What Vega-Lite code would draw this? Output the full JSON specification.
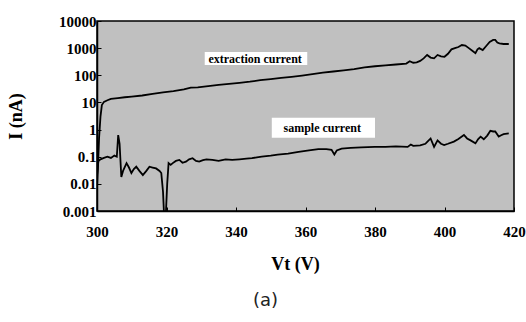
{
  "$schema": "https://vega.github.io/schema/vega-lite/v6.json",
  "autosize": "none",
  "width": 417,
  "height": 190,
  "padding": {"left": 97, "top": 21, "right": 12, "bottom": 111},
  "background": "white",
  "config": {
    "view": {"stroke": "black", "strokeWidth": 1.5, "fill": "#c0c0c0"},
    "axis": {"grid": false, "domainColor": "black", "tickColor": "black", "labelColor": "black", "titleColor": "black", "labelFont": "Liberation Serif", "titleFont": "Liberation Serif", "labelFontWeight": "bold", "titleFontWeight": "bold"}
  },
  "title": {"text": "(a)", "orient": "bottom", "anchor": "middle", "font": "DejaVu Sans", "fontSize": 18, "fontWeight": "normal", "color": "#222", "dx": -40, "offset": 19},
  "datasets": {
    "lines": [
      {"series": "extraction", "v": 300.0, "i": 0.008},
      {"series": "extraction", "v": 300.3, "i": 0.05},
      {"series": "extraction", "v": 300.6, "i": 0.5},
      {"series": "extraction", "v": 301.0, "i": 3},
      {"series": "extraction", "v": 301.4, "i": 8},
      {"series": "extraction", "v": 302.0, "i": 10.5},
      {"series": "extraction", "v": 303, "i": 12},
      {"series": "extraction", "v": 304, "i": 13.5},
      {"series": "extraction", "v": 306, "i": 14.5},
      {"series": "extraction", "v": 308, "i": 15.5},
      {"series": "extraction", "v": 310, "i": 16.5},
      {"series": "extraction", "v": 313, "i": 18},
      {"series": "extraction", "v": 316, "i": 20.5},
      {"series": "extraction", "v": 319, "i": 23.5},
      {"series": "extraction", "v": 322, "i": 26},
      {"series": "extraction", "v": 325, "i": 30},
      {"series": "extraction", "v": 327, "i": 35},
      {"series": "extraction", "v": 329, "i": 36},
      {"series": "extraction", "v": 332, "i": 40},
      {"series": "extraction", "v": 335, "i": 44},
      {"series": "extraction", "v": 338, "i": 48},
      {"series": "extraction", "v": 341, "i": 53},
      {"series": "extraction", "v": 344, "i": 58},
      {"series": "extraction", "v": 347, "i": 66},
      {"series": "extraction", "v": 350, "i": 72},
      {"series": "extraction", "v": 353, "i": 80},
      {"series": "extraction", "v": 356, "i": 88},
      {"series": "extraction", "v": 359, "i": 98},
      {"series": "extraction", "v": 362, "i": 110},
      {"series": "extraction", "v": 365, "i": 125},
      {"series": "extraction", "v": 368, "i": 138},
      {"series": "extraction", "v": 371, "i": 152},
      {"series": "extraction", "v": 374, "i": 170},
      {"series": "extraction", "v": 377, "i": 195},
      {"series": "extraction", "v": 380, "i": 215},
      {"series": "extraction", "v": 383, "i": 230},
      {"series": "extraction", "v": 386, "i": 250},
      {"series": "extraction", "v": 389, "i": 270},
      {"series": "extraction", "v": 390, "i": 330},
      {"series": "extraction", "v": 391, "i": 290},
      {"series": "extraction", "v": 392, "i": 300},
      {"series": "extraction", "v": 393, "i": 340},
      {"series": "extraction", "v": 394, "i": 420},
      {"series": "extraction", "v": 395, "i": 560},
      {"series": "extraction", "v": 396, "i": 450},
      {"series": "extraction", "v": 397, "i": 420},
      {"series": "extraction", "v": 398, "i": 560},
      {"series": "extraction", "v": 399, "i": 500},
      {"series": "extraction", "v": 400, "i": 480},
      {"series": "extraction", "v": 401, "i": 620},
      {"series": "extraction", "v": 402, "i": 900},
      {"series": "extraction", "v": 403, "i": 1000},
      {"series": "extraction", "v": 404, "i": 1100},
      {"series": "extraction", "v": 405, "i": 1300},
      {"series": "extraction", "v": 406, "i": 1250},
      {"series": "extraction", "v": 407, "i": 1000},
      {"series": "extraction", "v": 408, "i": 800},
      {"series": "extraction", "v": 408.9, "i": 650},
      {"series": "extraction", "v": 409.5, "i": 900},
      {"series": "extraction", "v": 410, "i": 1000},
      {"series": "extraction", "v": 411, "i": 850},
      {"series": "extraction", "v": 412, "i": 1200},
      {"series": "extraction", "v": 413, "i": 1700},
      {"series": "extraction", "v": 414, "i": 2000},
      {"series": "extraction", "v": 414.6, "i": 2000},
      {"series": "extraction", "v": 415.2, "i": 1600},
      {"series": "extraction", "v": 415.8, "i": 1500},
      {"series": "extraction", "v": 417, "i": 1420},
      {"series": "extraction", "v": 418.5, "i": 1420},
      {"series": "sample", "v": 299.6, "i": 0.003},
      {"series": "sample", "v": 300, "i": 0.02},
      {"series": "sample", "v": 300.4, "i": 0.07},
      {"series": "sample", "v": 301, "i": 0.08},
      {"series": "sample", "v": 302, "i": 0.09},
      {"series": "sample", "v": 303, "i": 0.1},
      {"series": "sample", "v": 304, "i": 0.09},
      {"series": "sample", "v": 305, "i": 0.11},
      {"series": "sample", "v": 305.7, "i": 0.1},
      {"series": "sample", "v": 306.1, "i": 0.63},
      {"series": "sample", "v": 306.5, "i": 0.3},
      {"series": "sample", "v": 307, "i": 0.018},
      {"series": "sample", "v": 307.5, "i": 0.03},
      {"series": "sample", "v": 308.5, "i": 0.058},
      {"series": "sample", "v": 309.2, "i": 0.04},
      {"series": "sample", "v": 309.9, "i": 0.025},
      {"series": "sample", "v": 310.6, "i": 0.035},
      {"series": "sample", "v": 311.3, "i": 0.043},
      {"series": "sample", "v": 312.2, "i": 0.03},
      {"series": "sample", "v": 313.2, "i": 0.021},
      {"series": "sample", "v": 314.2, "i": 0.03},
      {"series": "sample", "v": 315.1, "i": 0.043},
      {"series": "sample", "v": 316, "i": 0.04},
      {"series": "sample", "v": 317, "i": 0.037},
      {"series": "sample", "v": 318, "i": 0.03},
      {"series": "sample", "v": 318.5, "i": 0.025},
      {"series": "sample", "v": 319, "i": 0.005},
      {"series": "sample", "v": 319.3, "i": 0.0007},
      {"series": "sample", "v": 319.8, "i": 0.0007},
      {"series": "sample", "v": 320.2, "i": 0.01},
      {"series": "sample", "v": 320.6, "i": 0.058},
      {"series": "sample", "v": 321.2, "i": 0.05},
      {"series": "sample", "v": 321.8, "i": 0.058},
      {"series": "sample", "v": 322.7, "i": 0.07},
      {"series": "sample", "v": 323.7, "i": 0.076},
      {"series": "sample", "v": 324.6, "i": 0.06},
      {"series": "sample", "v": 325.6, "i": 0.066},
      {"series": "sample", "v": 326.5, "i": 0.08},
      {"series": "sample", "v": 327.5, "i": 0.088},
      {"series": "sample", "v": 328.5, "i": 0.07},
      {"series": "sample", "v": 329.4, "i": 0.066},
      {"series": "sample", "v": 330.5, "i": 0.075},
      {"series": "sample", "v": 331.5, "i": 0.08},
      {"series": "sample", "v": 333.2, "i": 0.076},
      {"series": "sample", "v": 335, "i": 0.07},
      {"series": "sample", "v": 337, "i": 0.08},
      {"series": "sample", "v": 338.9, "i": 0.076},
      {"series": "sample", "v": 341, "i": 0.08},
      {"series": "sample", "v": 343, "i": 0.085},
      {"series": "sample", "v": 344.6, "i": 0.088},
      {"series": "sample", "v": 346, "i": 0.095},
      {"series": "sample", "v": 347.4, "i": 0.1},
      {"series": "sample", "v": 350, "i": 0.11},
      {"series": "sample", "v": 352, "i": 0.12},
      {"series": "sample", "v": 355, "i": 0.13},
      {"series": "sample", "v": 358, "i": 0.15},
      {"series": "sample", "v": 361, "i": 0.17},
      {"series": "sample", "v": 363.7, "i": 0.19},
      {"series": "sample", "v": 366, "i": 0.19},
      {"series": "sample", "v": 367.5, "i": 0.18},
      {"series": "sample", "v": 368.3, "i": 0.12},
      {"series": "sample", "v": 369, "i": 0.17},
      {"series": "sample", "v": 370.4, "i": 0.2},
      {"series": "sample", "v": 373, "i": 0.21},
      {"series": "sample", "v": 376, "i": 0.22},
      {"series": "sample", "v": 379.9, "i": 0.23},
      {"series": "sample", "v": 383, "i": 0.23},
      {"series": "sample", "v": 386, "i": 0.24},
      {"series": "sample", "v": 389.4, "i": 0.23},
      {"series": "sample", "v": 390.3, "i": 0.28},
      {"series": "sample", "v": 391, "i": 0.25},
      {"series": "sample", "v": 393, "i": 0.26},
      {"series": "sample", "v": 394.5, "i": 0.3},
      {"series": "sample", "v": 395.1, "i": 0.36},
      {"series": "sample", "v": 396, "i": 0.47},
      {"series": "sample", "v": 397, "i": 0.23},
      {"series": "sample", "v": 398, "i": 0.4},
      {"series": "sample", "v": 399, "i": 0.3},
      {"series": "sample", "v": 399.9, "i": 0.27},
      {"series": "sample", "v": 401, "i": 0.3},
      {"series": "sample", "v": 402.7, "i": 0.36},
      {"series": "sample", "v": 404, "i": 0.45},
      {"series": "sample", "v": 405.6, "i": 0.63},
      {"series": "sample", "v": 406.5, "i": 0.47},
      {"series": "sample", "v": 407.5, "i": 0.4},
      {"series": "sample", "v": 408.9, "i": 0.31},
      {"series": "sample", "v": 409.7, "i": 0.45},
      {"series": "sample", "v": 410.4, "i": 0.55},
      {"series": "sample", "v": 411.3, "i": 0.44},
      {"series": "sample", "v": 412.3, "i": 0.6},
      {"series": "sample", "v": 413.2, "i": 0.9},
      {"series": "sample", "v": 414, "i": 0.85},
      {"series": "sample", "v": 414.6, "i": 0.85},
      {"series": "sample", "v": 415.6, "i": 0.55},
      {"series": "sample", "v": 416.3, "i": 0.62},
      {"series": "sample", "v": 417, "i": 0.68},
      {"series": "sample", "v": 418.5, "i": 0.72}
    ],
    "labels": [
      {"label": "extraction current", "x": 331, "x2": 360.5, "y": 720, "y2": 240, "tx": 345.5, "ty": 400},
      {"label": "sample current", "x": 350.3, "x2": 380, "y": 2.7, "y2": 0.5, "tx": 364.8, "ty": 1.15}
    ]
  },
  "layer": [
    {
      "data": {"name": "labels"},
      "mark": {"type": "rect", "fill": "white"},
      "encoding": {
        "x": {"field": "x", "type": "quantitative", "scale": {"domain": [300, 420], "nice": false, "zero": false}},
        "x2": {"field": "x2"},
        "y": {"field": "y", "type": "quantitative", "scale": {"type": "log", "domain": [0.001, 10000], "nice": false}},
        "y2": {"field": "y2"}
      }
    },
    {
      "data": {"name": "lines"},
      "mark": {"type": "line", "color": "black", "strokeWidth": 1.8, "clip": true},
      "encoding": {
        "x": {"field": "v", "type": "quantitative", "scale": {"domain": [300, 420], "nice": false, "zero": false},
          "axis": {"title": "Vt (V)", "values": [300, 320, 340, 360, 380, 400, 420], "tickSize": -4, "labelFontSize": 15, "labelPadding": 17, "titleFontSize": 18, "titlePadding": 16, "titleX": 198, "domainWidth": 1.5, "labelFlush": false, "labelBound": false}},
        "y": {"field": "i", "type": "quantitative", "scale": {"type": "log", "domain": [0.001, 10000], "nice": false},
          "axis": {"title": "I (nA)", "values": [0.001, 0.01, 0.1, 1, 10, 100, 1000, 10000], "format": "~g", "tickSize": -4, "labelFontSize": 15, "labelPadding": 5, "titleFontSize": 18, "titlePadding": 33, "domainWidth": 1.5, "labelFlush": false}},
        "detail": {"field": "series"}
      }
    },
    {
      "data": {"name": "labels"},
      "mark": {"type": "text", "font": "Liberation Serif", "fontWeight": "bold", "fontSize": 12, "color": "black"},
      "encoding": {
        "x": {"field": "tx", "type": "quantitative"},
        "y": {"field": "ty", "type": "quantitative"},
        "text": {"field": "label"}
      }
    }
  ]
}
